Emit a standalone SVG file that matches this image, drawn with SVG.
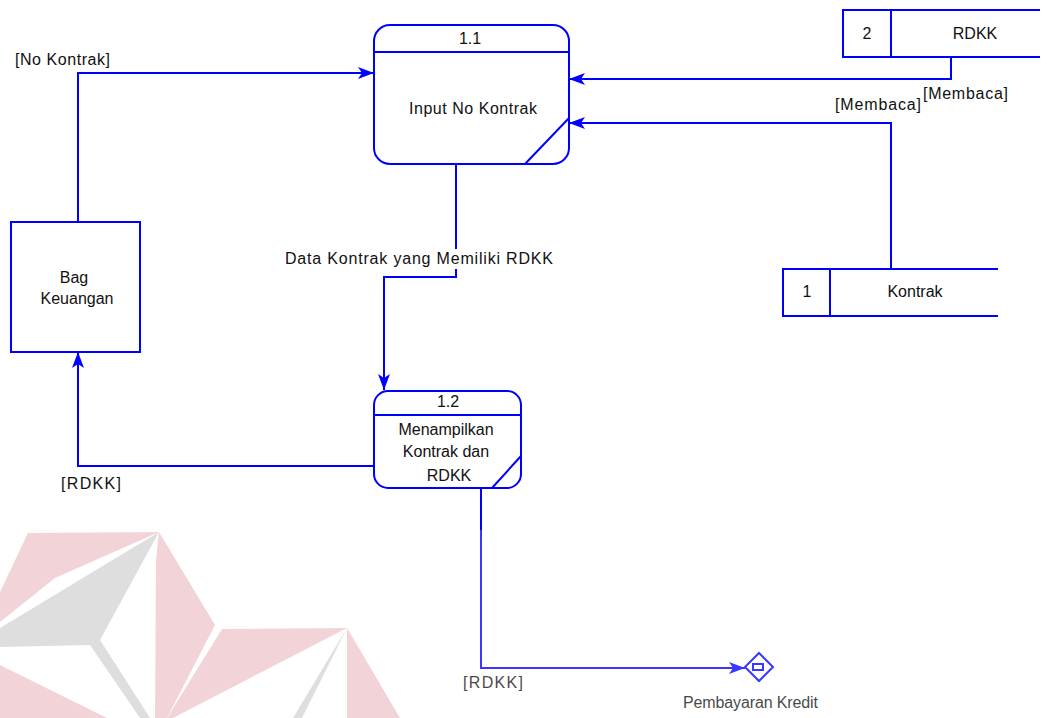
<svg xmlns="http://www.w3.org/2000/svg" width="1050" height="718" viewBox="0 0 1050 718">
<style>
.b{fill:#fff;stroke:#0000ff;stroke-width:2}
.ln{fill:none;stroke:#0000ff;stroke-width:2}
.c{fill:none;stroke:#0000ff;stroke-width:2}
text{font-family:"Liberation Sans",Arial,sans-serif;font-size:16px;fill:#111}
.m{text-anchor:middle}
.pk{fill:#f2d4d8}
.gr{fill:#dedede}
</style>
<defs>
<marker id="ah" viewBox="0 0 16 12" refX="16" refY="6" markerWidth="16" markerHeight="12" markerUnits="userSpaceOnUse" orient="auto">
<path d="M0,0 L16,6 L0,12 L4,6 z" fill="#0000ff"/>
</marker>
</defs>
<rect width="1050" height="718" fill="#fff"/>
<g id="connectors">
<path class="c" d="M78,222 V73 H374" marker-end="url(#ah)"/>
<path class="c" d="M951,57 V79 H569" marker-end="url(#ah)"/>
<path class="c" d="M891,269 V123 H569" marker-end="url(#ah)"/>
<path class="c" d="M456,164 V277 H384 V390" marker-end="url(#ah)"/>
<path class="c" d="M374,466 H78 V352" marker-end="url(#ah)"/>
<path class="c" d="M481,488 V668 H745" marker-end="url(#ah)"/>
<rect x="283" y="249" width="273" height="20" fill="#fff"/>
<text x="285" y="264" textLength="268">Data Kontrak yang Memiliki RDKK</text>
<text x="15" y="65" textLength="95">[No Kontrak]</text>
<text x="923" y="99" textLength="85">[Membaca]</text>
<text x="835" y="110" textLength="86">[Membaca]</text>
<text x="61" y="489" textLength="60">[RDKK]</text>
<text x="463" y="688" textLength="60">[RDKK]</text>
</g>
<g id="p11">
<rect class="b" x="374" y="25" width="195" height="139" rx="16"/>
<line class="ln" x1="374" y1="52" x2="569" y2="52"/>
<line class="ln" x1="569" y1="118" x2="525" y2="164"/>
<text class="m" x="470" y="44">1.1</text>
<text x="409" y="114" textLength="128">Input No Kontrak</text>
</g>
<g id="p12">
<rect class="b" x="374" y="391" width="147" height="97" rx="14"/>
<line class="ln" x1="374" y1="415" x2="521" y2="415"/>
<line class="ln" x1="521" y1="456" x2="492" y2="488"/>
<text class="m" x="448" y="407">1.2</text>
<text class="m" x="446" y="435">Menampilkan</text>
<text class="m" x="446" y="457">Kontrak dan</text>
<text class="m" x="449" y="481">RDKK</text>
</g>
<g id="ds2">
<path class="ln" d="M1040,10 H843 V57 H1040 M891,10 V57"/>
<text class="m" x="867" y="39">2</text>
<text class="m" x="975" y="39">RDKK</text>
</g>
<g id="ds1">
<path class="ln" d="M998,269 H783 V316 H998 M830,269 V316"/>
<text class="m" x="807" y="297">1</text>
<text class="m" x="915" y="297">Kontrak</text>
</g>
<g id="bag">
<rect class="b" x="11" y="222" width="129" height="130"/>
<text class="m" x="74" y="283">Bag</text>
<text class="m" x="77" y="304">Keuangan</text>
</g>
<g id="pk">
<path class="b" d="M759,653 L773,667 L759,681 L745,667 z"/>
<rect class="b" x="753" y="664" width="10" height="6" stroke-width="1.5"/>
<text x="683" y="708" textLength="135">Pembayaran Kredit</text>
</g>
<g id="watermark">
<rect x="0" y="530" width="1050" height="188" fill="#fff" opacity="0.22"/>
<polygon class="pk" points="28,533 159,532 55,578 0,622 0,592"/>
<polygon class="gr" points="159,532 0,628 0,647 90,645 140,718 150,718 100,640"/>
<polygon class="pk" points="159,532 215,625 167,718 155,718 156,560"/>
<polygon class="pk" points="0,665 107,718 0,718"/>
<polygon class="pk" points="222,629 347,628 173,718 167,718"/>
<polygon class="gr" points="347,628 293,718 302,718"/>
<polygon class="pk" points="347,628 400,718 347,718"/>
</g>
</svg>
